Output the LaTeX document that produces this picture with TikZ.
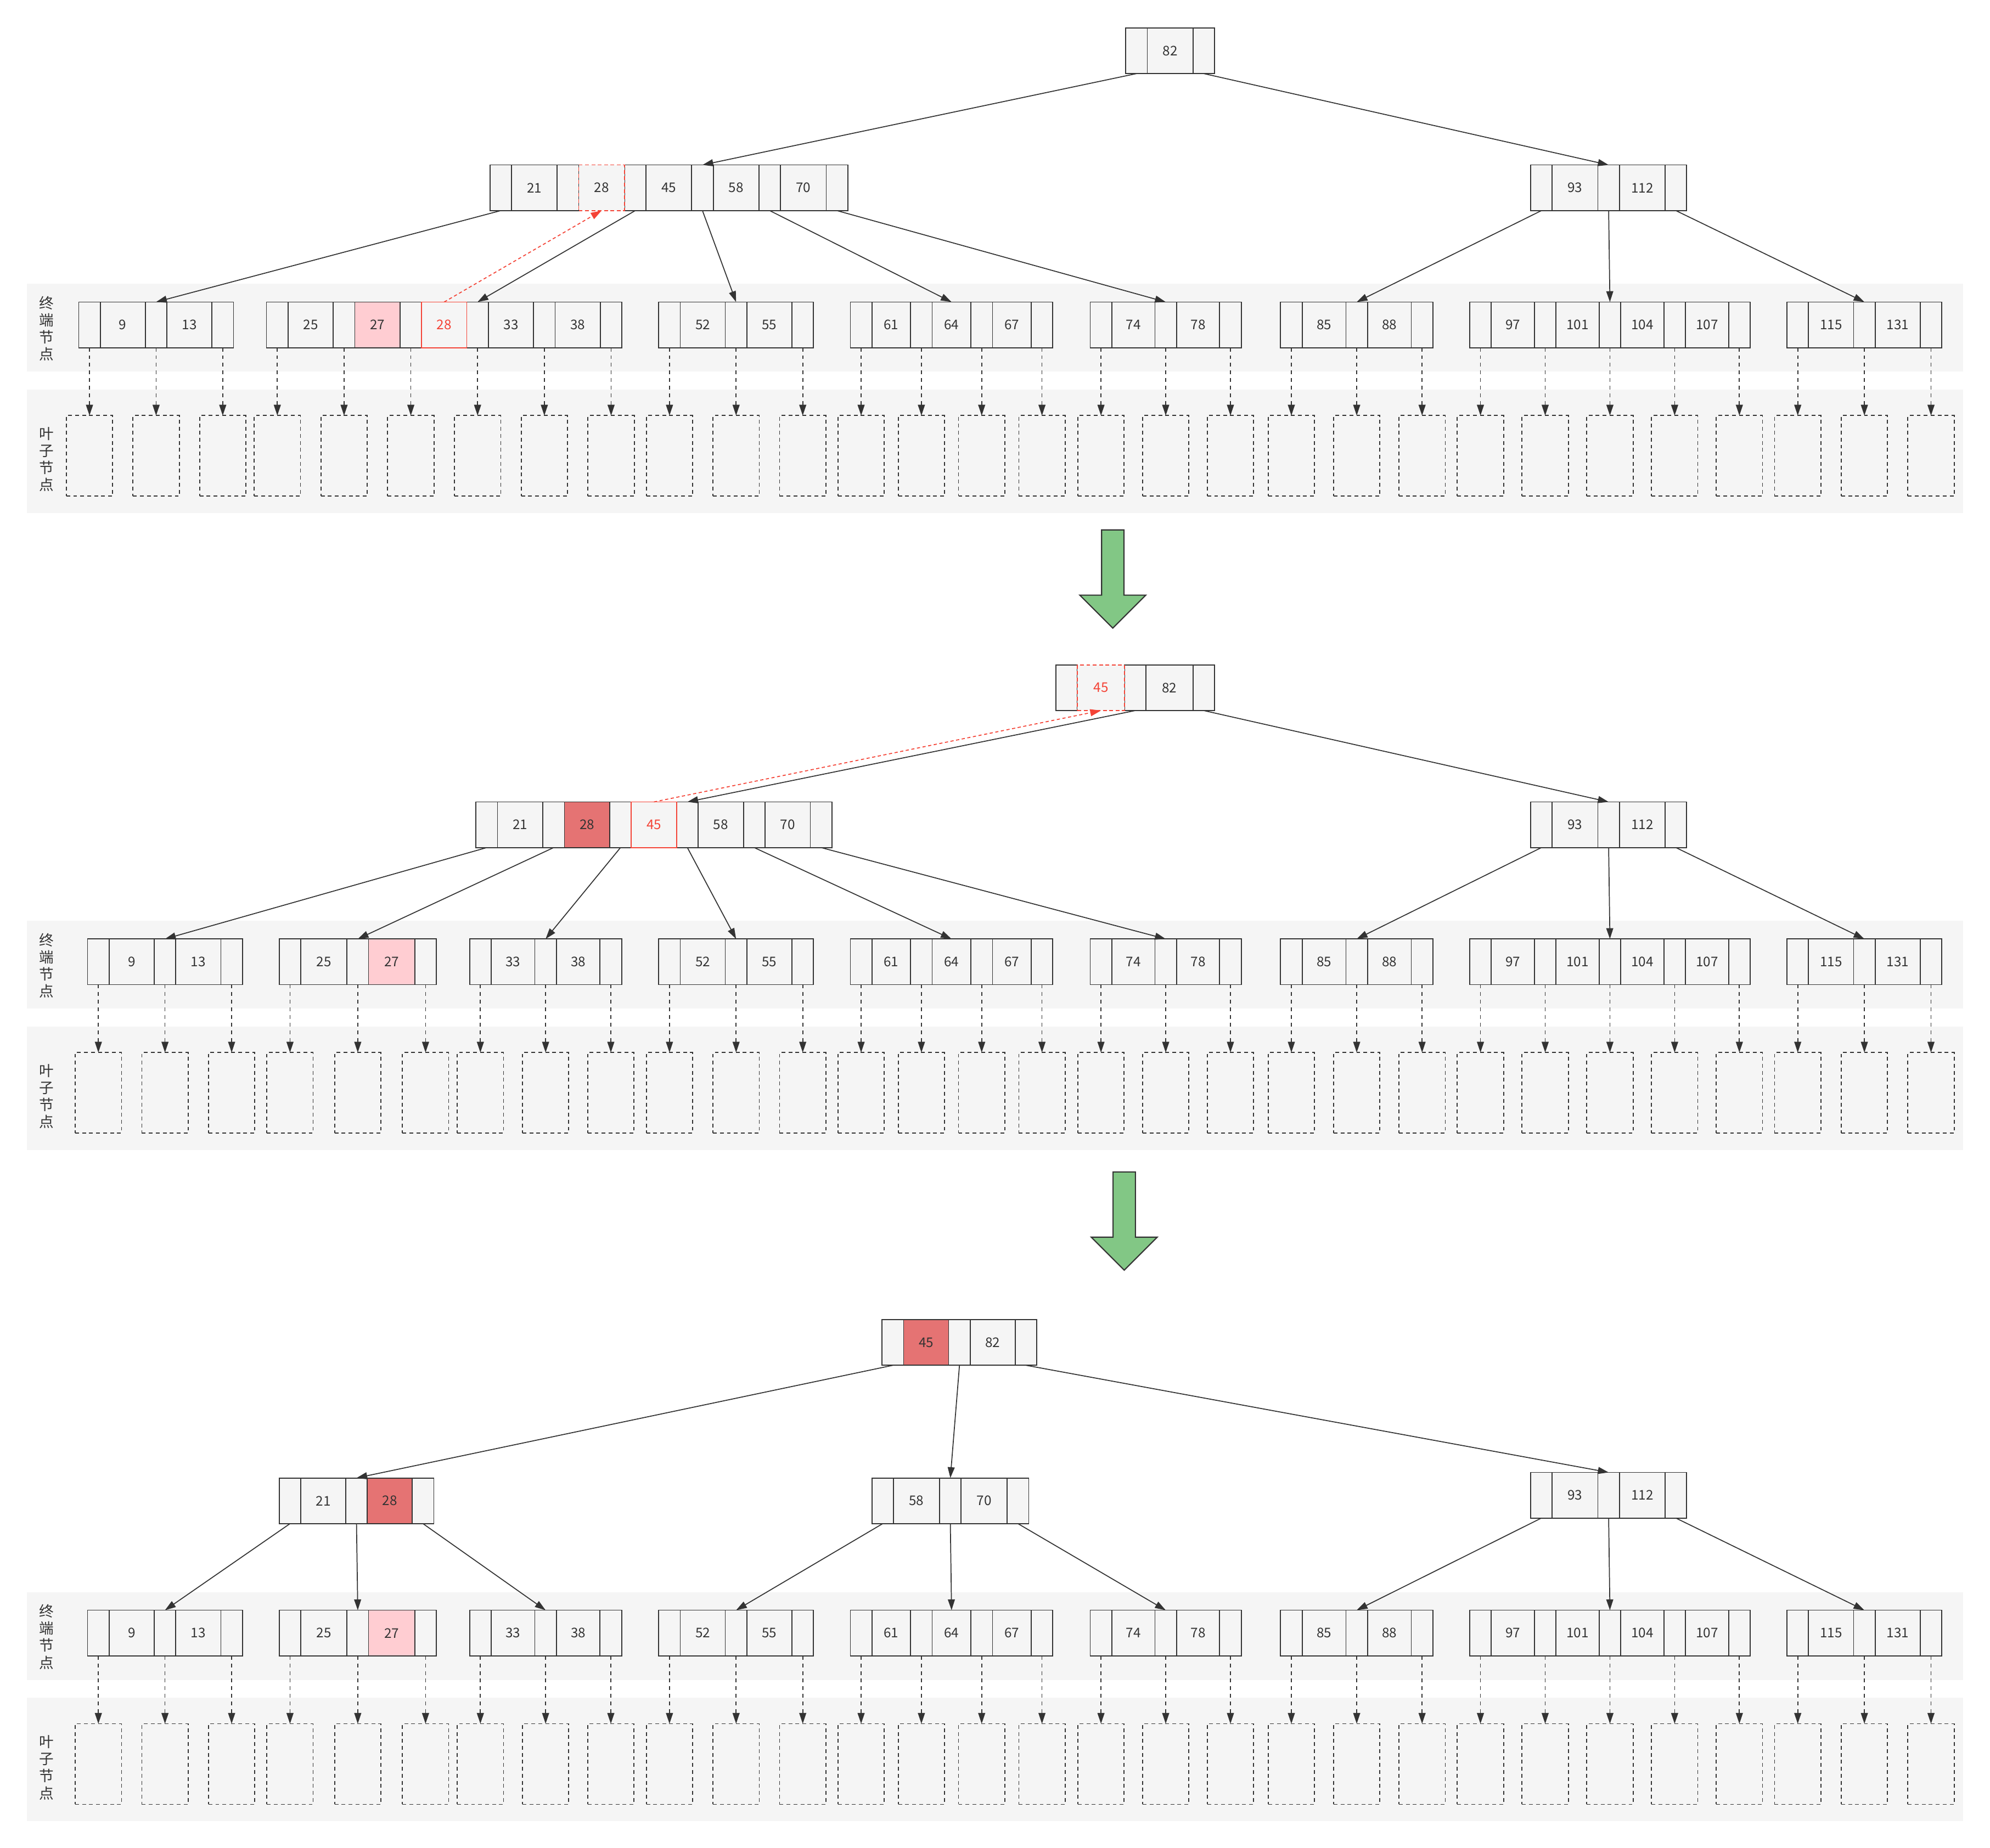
\documentclass[tikz,border=0pt]{standalone}
\usepackage{fontspec}
\setmainfont{Noto Sans CJK SC}
\usetikzlibrary{positioning,arrows.meta}

\definecolor{cellgray}{HTML}{F5F5F5}
\definecolor{ink}{HTML}{333333}
\definecolor{hlred}{HTML}{F44336}
\definecolor{hlpink}{HTML}{FFCDD2}
\definecolor{hldark}{HTML}{E57373}
\definecolor{arrowgreen}{HTML}{82C785}

\pgfdeclarelayer{back}
\pgfdeclarelayer{under}
\pgfsetlayers{back,under,main}

% one node of the tree: name, left x, top y, key width, keys (value/style)
\newcommand{\bnode}[5]{%
  \begin{pgfonlayer}{under}
    \node[ptrcell, anchor=north west] (#1p0) at (#2,#3) {};
  \end{pgfonlayer}
  \foreach \v/\s [count=\i, remember=\i as \j (initially 0)] in {#5} {
    \node[keycell=#4, \s, right=0pt of #1p\j] (#1k\i) {\v};
    \begin{pgfonlayer}{under}
      \node[ptrcell, right=0pt of #1k\i] (#1p\i) {};
    \end{pgfonlayer}
  }%
}
% leaf boxes under the pointers of a terminal node
\newcommand{\leafrow}[2]{%
  \foreach \i in {0,...,#2} {
    \node[leafbox, below=53.5pt of #1p\i] (#1l\i) {};
    \draw[leaflink] (#1p\i.south) -- (#1l\i.north);
  }%
}

\begin{document}
\begin{tikzpicture}[x=1pt, y=-1pt,
  cell/.style={draw=ink, fill=cellgray, line width=.75pt, minimum height=36pt,
    inner sep=0pt, outer sep=0pt, text=ink, font=\fontsize{10.5}{12}\selectfont},
  ptrcell/.style={cell, minimum width=17pt},
  keycell/.style={cell, minimum width=#1pt},
  std/.style={},
  pinkfill/.style={fill=hlpink},
  darkfill/.style={fill=hldark},
  redcell/.style={draw=hlred, text=hlred},
  newdash/.style={draw=hlred, dash pattern=on 3pt off 2pt},
  newdashred/.style={newdash, text=hlred},
  leafbox/.style={draw=ink, fill=cellgray, line width=.75pt, dash pattern=on 3pt off 2.5pt,
    minimum width=36.5pt, minimum height=63.5pt, inner sep=0pt, outer sep=0pt},
  link/.style={draw=ink, line width=.75pt, -{Triangle[length=8.5pt,width=5.5pt]}},
  newlink/.style={draw=hlred, line width=.75pt, dash pattern=on 2.5pt off 2pt,
    -{Triangle[length=8.5pt,width=5.5pt]}},
  leaflink/.style={draw=ink, line width=.75pt, dash pattern=on 3pt off 3pt,
    -{Triangle[length=8.5pt,width=5.5pt]}},
  bandlabel/.style={align=center, text=ink, inner sep=0pt, font=\fontsize{11.5}{13.5}\selectfont},
  bigarrow/.style={draw=ink, fill=arrowgreen, line width=.9pt, line join=miter}]

\useasboundingbox (0,0) rectangle (1568,1456.4);

% bands
\begin{pgfonlayer}{back}
  \foreach \base in {0,502,1031} {
    \fill[cellgray] (21.3,223.7+\base) rectangle (1546.7,292.9+\base);
    \fill[cellgray] (21.3,307+\base) rectangle (1546.7,404.3+\base);
  }
\end{pgfonlayer}
\foreach \base in {0,502,1031} {
  \node[bandlabel] (term\base) at (36.7,259+\base) {终\\端\\节\\点};
  \node[bandlabel] (leaf\base) at (36.7,362+\base) {叶\\子\\节\\点};
}

% first tree
\bnode{ar}{887}{22}{36}{82/std}
\bnode{aL}{386}{130}{36}{21/std,28/newdash,45/std,58/std,70/std}
\bnode{aR}{1206}{130}{36}{93/std,112/std}
\bnode{at1}{62}{238}{35.5}{9/std,13/std}
\bnode{at2}{210}{238}{35.6}{25/std,27/pinkfill,28/redcell,33/std,38/std}
\bnode{at3}{519}{238}{35.5}{52/std,55/std}
\bnode{at4}{670}{238}{30.5}{61/std,64/std,67/std}
\bnode{at5}{859}{238}{34}{74/std,78/std}
\bnode{at6}{1009}{238}{34.5}{85/std,88/std}
\bnode{at7}{1158}{238}{34}{97/std,101/std,104/std,107/std}
\bnode{at8}{1408}{238}{35.5}{115/std,131/std}
\leafrow{at1}{2} \leafrow{at2}{5} \leafrow{at3}{2} \leafrow{at4}{3}
\leafrow{at5}{2} \leafrow{at6}{2} \leafrow{at7}{4} \leafrow{at8}{2}
\foreach \a/\b in {arp0/aLp3, arp1/aRp1, aLp0/at1p1, aLp2/at2p3, aLp3/at3p1,
    aLp4/at4k2, aLp5/at5p1, aRp0/at6p1, aRp1/at7p2, aRp2/at8p1}
  \draw[link] (\a.south) -- (\b.north);
\draw[newlink] (at2k3.north) -- (aLk2.south);

% second tree
\bnode{br}{832}{524}{37}{45/newdashred,82/std}
\bnode{bL}{375}{632}{35.7}{21/std,28/darkfill,45/redcell,58/std,70/std}
\bnode{bR}{1206}{632}{36}{93/std,112/std}
\bnode{bt1}{69}{740}{35.5}{9/std,13/std}
\bnode{bt2}{220}{740}{36.4}{25/std,27/pinkfill}
\bnode{bt3}{370}{740}{34.4}{33/std,38/std}
\bnode{bt4}{519}{740}{35.5}{52/std,55/std}
\bnode{bt5}{670}{740}{30.5}{61/std,64/std,67/std}
\bnode{bt6}{859}{740}{34}{74/std,78/std}
\bnode{bt7}{1009}{740}{34.5}{85/std,88/std}
\bnode{bt8}{1158}{740}{34}{97/std,101/std,104/std,107/std}
\bnode{bt9}{1408}{740}{35.5}{115/std,131/std}
\leafrow{bt1}{2} \leafrow{bt2}{2} \leafrow{bt3}{2} \leafrow{bt4}{2} \leafrow{bt5}{3}
\leafrow{bt6}{2} \leafrow{bt7}{2} \leafrow{bt8}{4} \leafrow{bt9}{2}
\foreach \a/\b in {brp1/bLp3, brp2/bRp1, bLp0/bt1p1, bLp1/bt2p1, bLp2/bt3p1,
    bLp3/bt4p1, bLp4/bt5k2, bLp5/bt6p1, bRp0/bt7p1, bRp1/bt8p2, bRp2/bt9p1}
  \draw[link] (\a.south) -- (\b.north);
\draw[newlink] (bLk3.north) -- (brk1.south);

% third tree
\bnode{cr}{695}{1040}{35.5}{45/darkfill,82/std}
\bnode{cA}{220}{1164.8}{35.4}{21/std,28/darkfill}
\bnode{cB}{687}{1164.8}{36.3}{58/std,70/std}
\bnode{cC}{1206}{1160.4}{36}{93/std,112/std}
\bnode{ct1}{69}{1269}{35.5}{9/std,13/std}
\bnode{ct2}{220}{1269}{36.4}{25/std,27/pinkfill}
\bnode{ct3}{370}{1269}{34.4}{33/std,38/std}
\bnode{ct4}{519}{1269}{35.5}{52/std,55/std}
\bnode{ct5}{670}{1269}{30.5}{61/std,64/std,67/std}
\bnode{ct6}{859}{1269}{34}{74/std,78/std}
\bnode{ct7}{1009}{1269}{34.5}{85/std,88/std}
\bnode{ct8}{1158}{1269}{34}{97/std,101/std,104/std,107/std}
\bnode{ct9}{1408}{1269}{35.5}{115/std,131/std}
\leafrow{ct1}{2} \leafrow{ct2}{2} \leafrow{ct3}{2} \leafrow{ct4}{2} \leafrow{ct5}{3}
\leafrow{ct6}{2} \leafrow{ct7}{2} \leafrow{ct8}{4} \leafrow{ct9}{2}
\foreach \a/\b in {crp0/cAp1, crp1/cBp1, crp2/cCp1, cAp0/ct1p1, cAp1/ct2p1,
    cAp2/ct3p1, cBp0/ct4p1, cBp1/ct5k2, cBp2/ct6p1, cCp0/ct7p1, cCp1/ct8p2, cCp2/ct9p1}
  \draw[link] (\a.south) -- (\b.north);

% step arrows
\foreach \cx/\ty in {876.8/417.6, 885.8/923.6}
  \draw[bigarrow, shift={(\cx,\ty)}] (-8.8,0) -- (8.8,0) -- (8.8,51.4) -- (26,51.4)
    -- (0,77.4) -- (-26,51.4) -- (-8.8,51.4) -- cycle;
\end{tikzpicture}
\end{document}
